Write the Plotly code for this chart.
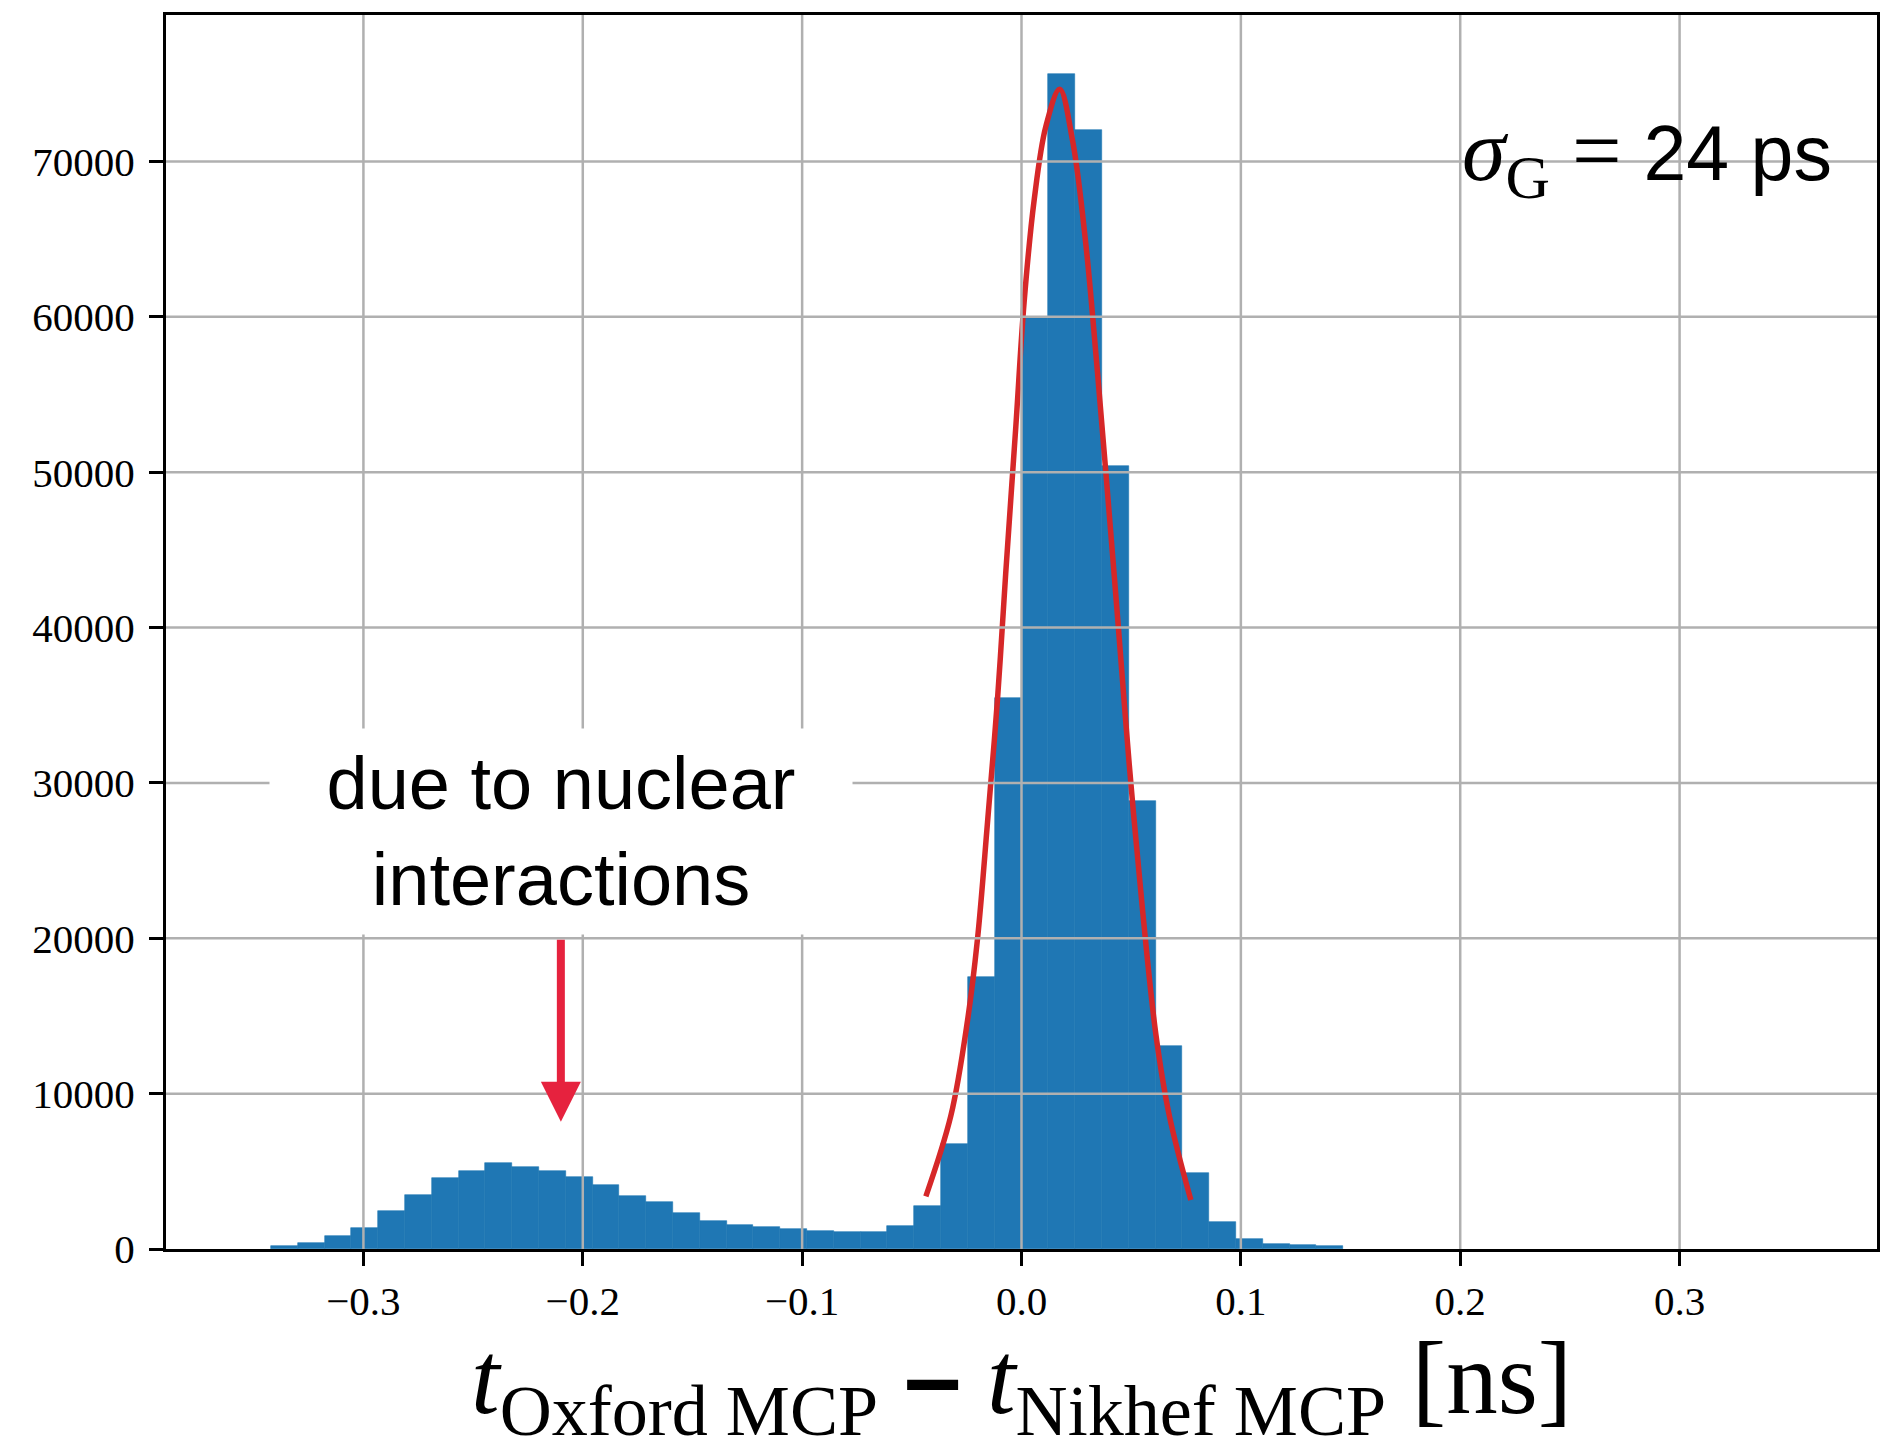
import plotly.graph_objects as go

# ---------------- data ----------------
BIN_W = 0.01222  # ns, histogram bin width

bin_left_edges = [
    -0.34216, -0.32994, -0.31772, -0.3055, -0.29328, -0.28106,
    -0.26884, -0.25662, -0.2444, -0.23218, -0.21996, -0.20774, -0.19552, -0.1833,
    -0.17108, -0.15886, -0.14664, -0.13442, -0.1222, -0.10998, -0.09776, -0.08554,
    -0.07332, -0.0611, -0.04888, -0.03666, -0.02444, -0.01222, 0.0, 0.01222,
    0.02444, 0.03666, 0.04888, 0.0611, 0.07332, 0.08554, 0.09776, 0.10998,
    0.1222, 0.13442,
]

counts = [
    200, 400, 840, 1380, 2470, 3450,
    4550, 5040, 5540, 5260, 5040, 4610, 4130, 3400,
    3040, 2340, 1820, 1560, 1400, 1270, 1180, 1110,
    1110, 1480, 2760, 6750, 17500, 35450, 59900, 75650,
    72030, 50420, 28850, 13050, 4880, 1760, 650, 330,
    230, 170,
]

# Gaussian fit curve
fit_x = [-0.0436, -0.0322, -0.0246, -0.0201, -0.0155, -0.0109, -0.0072, -0.0026,
         0.0012, 0.0058, 0.0111, 0.0174, 0.0233, 0.0293, 0.0339, 0.0384,
         0.0438, 0.0491, 0.0552, 0.0613, 0.0674, 0.0772]
fit_y = [3390, 8580, 14710, 19900, 27450, 35470, 43490, 52920,
         60950, 67550, 72260, 74650, 71330, 64720, 57640, 50090,
         40660, 31220, 21790, 13770, 8580, 3150]

x_tick_vals = [-0.3, -0.2, -0.1, 0.0, 0.1, 0.2, 0.3]
x_tick_text = ["\u22120.3", "\u22120.2", "\u22120.1", "0.0", "0.1", "0.2", "0.3"]
y_tick_vals = [0, 10000, 20000, 30000, 40000, 50000, 60000, 70000]
y_tick_text = ["0", "10000", "20000", "30000", "40000", "50000", "60000", "70000"]

x_range = [-0.39, 0.39]
y_range = [0, 79430]

# annotation anchors (data units)
note_x, note_y = -0.21, 26870
arrow_tail_y, arrow_tip_y = 20010, 8190

# ---------------- figure ----------------
centers = [e + BIN_W / 2 for e in bin_left_edges]

fig = go.Figure()
fig.add_trace(go.Bar(
    x=centers, y=counts, width=BIN_W,
    marker=dict(color="#1f77b4", line=dict(width=0.6, color="#1f77b4")),
    showlegend=False, hoverinfo="skip",
))
fig.add_trace(go.Scatter(
    x=fit_x, y=fit_y, mode="lines",
    line=dict(color="#d62728", width=5.5, shape="spline", smoothing=1.0),
    showlegend=False, hoverinfo="skip",
))

GRID = "#b0b0b0"
shapes = []
for v in x_tick_vals:
    shapes.append(dict(type="line", xref="x", yref="paper", x0=v, x1=v, y0=0, y1=1,
                       line=dict(color=GRID, width=2.5), layer="above"))
for v in y_tick_vals[1:]:
    shapes.append(dict(type="line", xref="paper", yref="y", x0=0, x1=1, y0=v, y1=v,
                       line=dict(color=GRID, width=2.5), layer="above"))

tickfont = dict(family="Liberation Serif", size=41, color="black")
axis_common = dict(
    showgrid=False, zeroline=False, showline=True, linecolor="black", linewidth=3,
    mirror=True, ticks="outside", ticklen=14, tickwidth=2.5, tickcolor="black",
    tickfont=tickfont, layer="above traces",
)

fig.update_layout(
    width=1881, height=1450,
    margin=dict(l=166, r=1, t=15, b=201),
    plot_bgcolor="white", paper_bgcolor="white",
    xaxis=dict(range=x_range, tickmode="array", tickvals=x_tick_vals, ticktext=x_tick_text,
               ticklabelstandoff=0, **axis_common),
    yaxis=dict(range=y_range, tickmode="array", tickvals=y_tick_vals, ticktext=y_tick_text,
               ticklabelstandoff=6, **axis_common),
    shapes=shapes,
    bargap=0,
)

annotations = [
    dict(x=note_x, y=note_y, xref="x", yref="y",
         text="due to nuclear<br>interactions", showarrow=False,
         font=dict(family="Liberation Sans", size=74, color="black"),
         bgcolor="white", width=580, height=203, align="center", valign="middle"),
    dict(x=note_x, y=arrow_tip_y, ax=note_x, ay=arrow_tail_y, xref="x", yref="y",
         axref="x", ayref="y", text="", showarrow=True, arrowhead=2, arrowsize=1,
         arrowwidth=8, arrowcolor="#e6223e", standoff=0),
    dict(x=0.8655, y=0.8857, xref="paper", yref="paper", xanchor="center", yanchor="middle",
         showarrow=False,
         text=("<span style=\"font-family:'Liberation Serif';font-size:88px\"><i>\u03c3</i>"
               "<sub>G</sub> = </span>24 ps"),
         font=dict(family="Liberation Sans", size=77, color="black")),
    dict(x=0.5, y=-0.1629, xref="paper", yref="paper", xanchor="center", yanchor="bottom",
         showarrow=False, yshift=-2, borderpad=0,
         text=("<i>t</i><sub>Oxford MCP</sub> "
               "<span style=\"font-family:'Liberation Sans';font-weight:bold\">\u2013</span> "
               "<i>t</i><sub>Nikhef MCP</sub> [ns]"),
         font=dict(family="Liberation Serif", size=103, color="black")),
]
fig.update_layout(annotations=annotations)

fig.write_html("out.html")
